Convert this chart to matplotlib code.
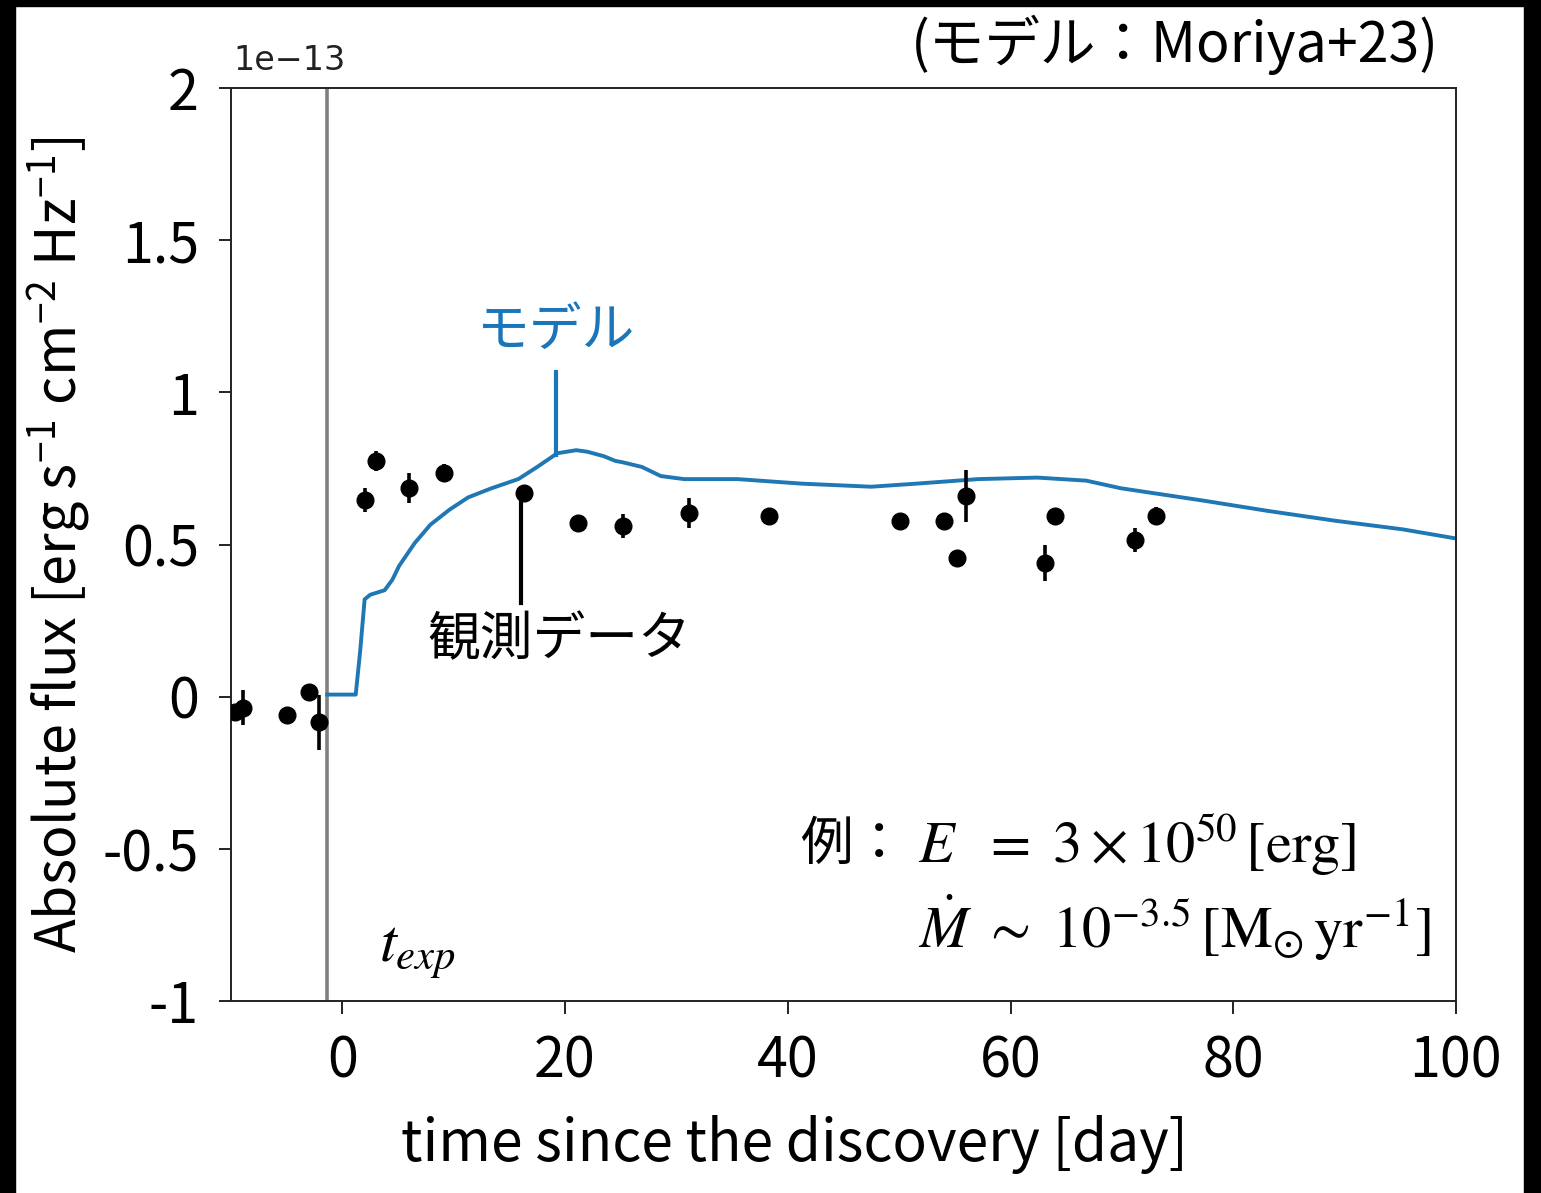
import matplotlib
matplotlib.use("Agg")
import matplotlib.pyplot as plt
from matplotlib.patches import Rectangle

plt.rcParams['font.family'] = ['Noto Sans CJK JP', 'DejaVu Sans']
plt.rcParams['mathtext.fontset'] = 'stix'

# observed light curve (flux in units of 1e-13)
obs_day = [-9.6, -8.9, -5.0, -3.0, -2.1, 2.0, 3.0, 6.0, 9.1, 16.3, 21.2, 25.2,
           31.1, 38.3, 50.1, 54.0, 55.2, 56.0, 63.1, 64.0, 71.2, 73.1]
obs_flux = [-0.049, -0.036, -0.06, 0.014, -0.084, 0.647, 0.775, 0.686, 0.736, 0.67, 0.571, 0.562,
            0.604, 0.594, 0.578, 0.578, 0.457, 0.66, 0.44, 0.594, 0.516, 0.594]
obs_err = [0.02, 0.057, 0.01, 0.01, 0.09, 0.04, 0.033, 0.05, 0.03, 0.01, 0.01, 0.04,
           0.05, 0.01, 0.01, 0.01, 0.01, 0.085, 0.06, 0.01, 0.04, 0.03]

# model light curve
model_day = [-1.35, 1.2, 1.6, 2.0, 2.5, 3.8, 4.5, 5.1, 6.5, 7.9, 9.6, 11.3, 13.4, 15.8, 17.5,
             19.3, 21.0, 22.0, 23.5, 24.5, 25.2, 26.9, 28.6, 30.7, 35.5, 41.3, 47.5, 51.5, 57.1,
             62.4, 66.8, 69.9, 77.2, 83.2, 89.2, 95.2, 100]
model_flux = [0.007, 0.007, 0.15, 0.32, 0.335, 0.35, 0.385, 0.43, 0.505, 0.565, 0.614, 0.655, 0.685,
              0.715, 0.755, 0.80, 0.81, 0.805, 0.79, 0.775, 0.77, 0.755, 0.725, 0.715, 0.715, 0.70,
              0.69, 0.70, 0.715, 0.72, 0.71, 0.685, 0.645, 0.61, 0.578, 0.55, 0.52]

t_exp = -1.35
xticks = [0, 20, 40, 60, 80, 100]
yticks = [-1, -0.5, 0, 0.5, 1, 1.5, 2]
ytick_labels = ['-1', '-0.5', '0', '0.5', '1', '1.5', '2']

fig = plt.figure(figsize=(15.41, 11.93), dpi=100)
ax = fig.add_axes([0.1499, 0.1609, 0.7949, 0.7653])

ax.axvline(t_exp, color='#808080', lw=2.6, zorder=1)
ax.plot(model_day, model_flux, color='#1f77b4', lw=2.8, zorder=2)
ax.errorbar(obs_day, obs_flux, yerr=obs_err, fmt='o', color='black', ms=12,
            elinewidth=2.6, capsize=0, zorder=3)

ax.set_xlim(-10, 100)
ax.set_ylim(-1, 2)
ax.set_xticks(xticks)
ax.set_xticklabels([str(v) for v in xticks])
ax.set_yticks(yticks)
ax.set_yticklabels(ytick_labels)
ax.tick_params(labelsize=40, length=9, width=1.4, color='#222222', pad=14)
for s in ax.spines.values():
    s.set_linewidth(1.4)
    s.set_color('#222222')

ax.set_xlabel('time since the discovery [day]', fontsize=41)
ax.xaxis.set_label_coords(0.46, -0.125)
ax.set_ylabel(r'Absolute flux [erg s$^{\mathregular{-1}}$ cm$^{\mathregular{-2}}$ Hz$^{\mathregular{-1}}$]',
              fontsize=40, labelpad=8)

ax.text(0.002, 1.012, '1e\u221213', transform=ax.transAxes, fontsize=24,
        family='DejaVu Sans', color='#222222', ha='left', va='bottom')

# labels for the two curves
ax.plot([19.23, 19.23], [0.795, 1.067], color='#1a75bb', lw=3)
ax.text(19.2, 1.205, 'モデル', color='#1a75bb', fontsize=38, ha='center', va='center')
ax.plot([16.0, 16.0], [0.309, 0.657], color='black', lw=3)
ax.text(19.5, 0.187, '観測データ', color='black', fontsize=38, ha='center', va='center')

ax.text(3.3, -0.83, r'$t_{exp}$', fontsize=44, ha='left', va='center')
ax.text(41.06, -0.486, '例：', fontsize=38, ha='left', va='center')
ax.text(51.66, -0.486, r'$E\ \ =\ 3\times10^{50}\,[\mathrm{erg}]$', fontsize=42, ha='left', va='center')
ax.text(51.66, -0.76, r'$\dot{M}\ \sim\ 10^{-3.5}\,[\mathrm{M}_{\odot}\,\mathrm{yr}^{-1}]$',
        fontsize=42, ha='left', va='center')

fig.text(0.934, 0.962, '(モデル：Moriya+23)', fontsize=40, ha='right', va='center')

# dark frame around the picture
for r in [(0, 0.995, 1, 0.005), (0, 0, 0.0097, 1), (0.989, 0, 0.011, 1)]:
    fig.patches.append(Rectangle(r[:2], r[2], r[3], transform=fig.transFigure,
                                 color='black', zorder=10))

fig.savefig('out.png', dpi=100)
